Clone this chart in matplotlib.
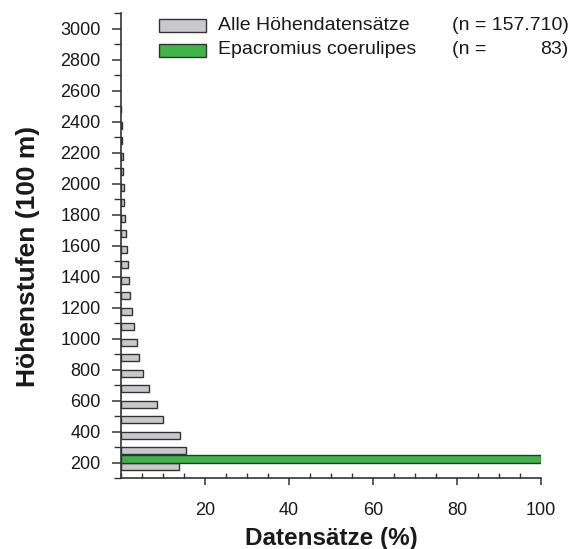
import matplotlib
matplotlib.use("Agg")
import matplotlib.pyplot as plt
from matplotlib.patches import Rectangle
from matplotlib.ticker import MultipleLocator

plt.rcParams['font.family'] = ['Liberation Sans', 'DejaVu Sans']

# Data
levels = [200, 300, 400, 500, 600, 700, 800, 900, 1000, 1100, 1200, 1300,
          1400, 1500, 1600, 1700, 1800, 1900, 2000, 2100, 2200, 2300, 2400, 2500]
alle = [13.8, 15.4, 14.0, 9.9, 8.6, 6.7, 5.3, 4.4, 3.8, 3.1, 2.6, 2.2,
        1.8, 1.6, 1.4, 1.2, 1.0, 0.8, 0.6, 0.5, 0.4, 0.25, 0.15, 0.05]
epac = [100.0, 0, 0, 0, 0, 0, 0, 0, 0, 0, 0, 0,
        0, 0, 0, 0, 0, 0, 0, 0, 0, 0, 0, 0]
series_labels = ["Alle Höhendatensätze", "Epacromius coerulipes"]
series_n = ["157.710", "83"]
yticks = list(range(200, 3001, 200))
xticks = [20, 40, 60, 80, 100]

gray_face = '#c9c9cd'
green_face = '#3fb449'
edge = '#333333'
txt = '#1a1a1a'

fig = plt.figure(figsize=(5.76, 5.49), dpi=100)
ax = fig.add_axes([121/576, 71/549, 420/576, 465/549])

h = 46
ax.barh(levels, alle, height=-h, align='edge', color=gray_face,
        edgecolor=edge, linewidth=1.0, zorder=2)
ax.barh([l for l, v in zip(levels, epac) if v > 0], [v for v in epac if v > 0],
        height=h, align='edge', color=green_face, edgecolor=edge,
        linewidth=1.0, zorder=3)

ax.set_xlim(0, 100)
ax.set_ylim(100, 3100)
ax.set_xticks(xticks)
ax.xaxis.set_minor_locator(MultipleLocator(5))
ax.set_yticks(yticks)
ax.yaxis.set_minor_locator(MultipleLocator(100))

for s in ['top', 'right']:
    ax.spines[s].set_visible(False)
for s in ['left', 'bottom']:
    ax.spines[s].set_color(edge)
    ax.spines[s].set_linewidth(1.2)

ax.tick_params(axis='x', which='major', direction='out', length=5, width=1.1,
               colors=edge, labelcolor=txt, labelsize=13, pad=12)
ax.tick_params(axis='x', which='minor', direction='in', length=3.5, width=1.0,
               colors=edge)
ax.tick_params(axis='y', which='major', direction='out', length=6.5, width=1.1,
               colors=edge, labelcolor=txt, labelsize=13, pad=8)
ax.tick_params(axis='y', which='minor', direction='out', length=5, width=1.0,
               colors=edge)

ax.set_xlabel("Datensätze (%)", fontsize=17.5, fontweight='bold', color=txt,
              labelpad=6)
ax.set_ylabel("Höhenstufen (100 m)", fontsize=19, fontweight='bold',
              color=txt)
ax.yaxis.set_label_coords((40 - 121) / 420, (478 - 256) / 465)

# Legend (manual, with aligned n column)
rows_y = [25.5, 50.0]
faces = [gray_face, green_face]
for i, (yc, face, lab, n) in enumerate(zip(rows_y, faces, series_labels, series_n)):
    y0 = 1 - (yc + 6.5) / 549
    fig.patches.append(Rectangle((159/576, y0), 47/576, 13/549,
                                 transform=fig.transFigure, facecolor=face,
                                 edgecolor=edge, linewidth=1.0))
    fig.text(218/576, 1 - yc/549, lab, fontsize=14, color=txt,
             ha='left', va='center')
    if i == 0:
        fig.text(452/576, 1 - yc/549, "(n = " + n + ")", fontsize=14,
                 color=txt, ha='left', va='center')
    else:
        fig.text(452/576, 1 - yc/549, "(n =", fontsize=14, color=txt,
                 ha='left', va='center')
        fig.text(568/576, 1 - yc/549, n + ")", fontsize=14, color=txt,
                 ha='right', va='center')

fig.savefig("out.png", dpi=100)
